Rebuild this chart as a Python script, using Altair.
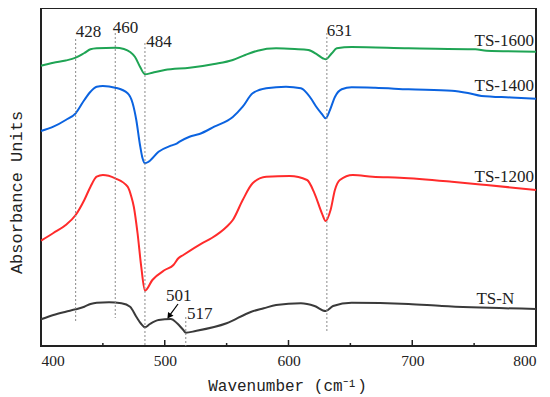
import altair as alt
import pandas as pd

# ---- data (absorbance in arbitrary units) ----
series_names = ["TS-1600", "TS-1400", "TS-1200", "TS-N"]
series_colors = ["#1fa454", "#0b63e0", "#ff2b2b", "#3a3a3a"]

wn_1600 = [400, 410, 420, 428, 435, 440, 445, 460, 467, 472, 476, 480, 484, 490, 500, 520, 540, 555, 565, 575, 590, 605, 616, 623, 628, 630, 635, 639, 651, 697, 751, 760, 800]
ab_1600 = [280.3, 283.3, 285.5, 288.3, 293, 296.7, 297.7, 298.3, 297, 294, 289, 279.3, 271.7, 273.3, 276, 278.3, 282, 286, 291, 295.3, 297.7, 297, 296, 291.7, 287.5, 286.7, 292.7, 297.7, 299, 297.7, 296.7, 295.3, 294.3]

wn_1400 = [400, 410, 420, 428, 435, 440, 445, 450, 460, 470, 474, 477, 480, 482, 484, 487, 495, 505, 510, 512, 520, 528, 540, 555, 563, 571, 582, 598, 610, 615, 619, 622, 627, 630, 633.5, 637.5, 643, 651, 670, 697, 732, 745, 756, 780, 800]
ab_1400 = [215, 219.3, 226, 232.7, 246, 254.3, 259.3, 260, 258.3, 252.7, 243, 226, 201, 188, 182.7, 184.3, 194.3, 200.3, 202.7, 204.3, 209.3, 212, 219.3, 229, 239.3, 252.7, 257.7, 259.3, 257.7, 252.7, 246, 240, 232, 227.7, 236, 249, 256.7, 258.7, 258.2, 256.7, 255.3, 253, 250, 248.5, 247.3]

wn_1200 = [400, 410, 420, 428, 435, 440, 445, 450, 460, 470, 473, 475, 478, 481, 484, 490, 500, 507, 511, 515, 530, 538, 550, 555, 563, 571, 582, 601, 615, 621, 627, 630, 634, 637.5, 641.5, 652, 668, 690, 732, 760, 800]
ab_1200 = [105.3, 113, 121, 131, 146, 159.3, 169.3, 171, 167.7, 159.3, 149.3, 139.3, 113, 79.3, 55.3, 66, 76, 81, 87.7, 91, 102.7, 108, 119.3, 126, 146, 162.7, 169.3, 170, 166, 152.7, 132.7, 125, 136, 156, 166, 171, 169.3, 168.3, 164.3, 161, 156]

wn_n = [400, 410, 420, 428, 435, 440, 445, 455, 465, 472, 477, 481, 484, 488, 495, 505, 510, 515, 517, 525, 550, 570, 580, 590, 610, 621, 630, 636, 651, 697, 724, 800]
ab_n = [26.7, 31, 34.3, 36.7, 39.3, 42, 43.3, 43.7, 42.7, 39.3, 29.3, 22, 18.7, 22, 26, 27, 22.7, 16, 13.3, 15, 22.7, 34.3, 37.7, 41, 42.7, 40, 35, 40, 43.3, 42, 40, 37]

# peak markers: wavenumber, dashed line top / bottom
peak_wn = [428, 460, 484, 631, 517]
peak_top = [307, 313, 303, 313, 29]
peak_bottom = [23.3, 28, 0, 14.3, 0]

# peak labels
plabel_text = ["428", "460", "484", "631", "501", "517"]
plabel_wn = [428, 458, 485, 631, 501, 518]
plabel_ab = [309, 312.7, 298.7, 310.3, 45.3, 26.7]

# series labels
slabel_wn = [800, 800, 800, 784]
slabel_ab = [300, 255.3, 164.3, 42]

major_ticks = [400, 500, 600, 700, 800]
minor_ticks = [450, 550, 650, 750]

# arrow for 501
arrow_wn = [510.7]
arrow_ab = [42]
arrow_wn2 = [503.5]
arrow_ab2 = [29.8]

# ---- build tables ----
rows = []
for name, wns, abs_ in zip(series_names, [wn_1600, wn_1400, wn_1200, wn_n], [ab_1600, ab_1400, ab_1200, ab_n]):
    for w, a in zip(wns, abs_):
        rows.append({"series": name, "wn": w, "ab": a})
lines_df = pd.DataFrame(rows)

X_SCALE = alt.Scale(domain=[400, 800], nice=False, zero=False)
Y_SCALE = alt.Scale(domain=[0, 338], nice=False, zero=False)
SERIF = "Liberation Serif"
MONO = "Liberation Mono"
INK = "#222222"

x_axis = alt.Axis(
    values=major_ticks, format="d", ticks=False, domain=False, grid=False,
    labelPadding=7, labelFont=SERIF, labelFontSize=15.5, labelColor=INK,
    title="Wavenumber (cm⁻¹)", titleFont=MONO, titleFontSize=16, titleFontWeight="normal",
    titleColor=INK, titleX=246, titleY=44, titleBaseline="alphabetic", titleAlign="center",
)
y_axis = alt.Axis(
    labels=False, ticks=False, domain=False, grid=False,
    title="Absorbance Units", titleFont=MONO, titleFontSize=17, titleFontWeight="normal",
    titleColor=INK, titleX=-20, titleY=184, titleAngle=270, titleAlign="center",
    titleBaseline="alphabetic",
)

lines = alt.Chart(lines_df).mark_line(strokeWidth=2, interpolate="monotone").encode(
    x=alt.X("wn:Q", scale=X_SCALE, axis=x_axis),
    y=alt.Y("ab:Q", scale=Y_SCALE, axis=y_axis),
    color=alt.Color("series:N", scale=alt.Scale(domain=series_names, range=series_colors), legend=None),
    detail="series:N",
)

peaks_df = pd.DataFrame({"wn": peak_wn, "top": peak_top, "bottom": peak_bottom})
dashes = alt.Chart(peaks_df).mark_rule(color="#8a8a8a", strokeWidth=1, strokeDash=[2, 2]).encode(
    x=alt.X("wn:Q", scale=X_SCALE),
    y=alt.Y("top:Q", scale=Y_SCALE),
    y2="bottom:Q",
)

plabel_df = pd.DataFrame({"t": plabel_text, "wn": plabel_wn, "ab": plabel_ab})
plabels = alt.Chart(plabel_df).mark_text(
    align="left", baseline="alphabetic", font=SERIF, fontSize=17, color=INK, dx=0
).encode(
    x=alt.X("wn:Q", scale=X_SCALE),
    y=alt.Y("ab:Q", scale=Y_SCALE),
    text="t:N",
)

slabel_df = pd.DataFrame({"t": series_names, "wn": slabel_wn, "ab": slabel_ab})
slabels = alt.Chart(slabel_df).mark_text(
    align="right", baseline="alphabetic", font=SERIF, fontSize=17, color=INK, dx=-2
).encode(
    x=alt.X("wn:Q", scale=X_SCALE),
    y=alt.Y("ab:Q", scale=Y_SCALE),
    text="t:N",
)

major_df = pd.DataFrame({"wn": major_ticks})
minor_df = pd.DataFrame({"wn": minor_ticks})
major_t = alt.Chart(major_df).mark_rule(color=INK, strokeWidth=1.5).encode(
    x=alt.X("wn:Q", scale=X_SCALE), y=alt.value(338), y2=alt.value(332)
)
minor_t = alt.Chart(minor_df).mark_rule(color=INK, strokeWidth=1.5).encode(
    x=alt.X("wn:Q", scale=X_SCALE), y=alt.value(338), y2=alt.value(335)
)

arrow_df = pd.DataFrame({"wn": arrow_wn, "ab": arrow_ab, "wn2": arrow_wn2, "ab2": arrow_ab2})
arrow_line = alt.Chart(arrow_df).mark_rule(color="black", strokeWidth=1.2).encode(
    x=alt.X("wn:Q", scale=X_SCALE), y=alt.Y("ab:Q", scale=Y_SCALE),
    x2="wn2:Q", y2="ab2:Q",
)
arrow_head = alt.Chart(arrow_df).mark_point(
    shape="triangle-up", filled=True, color="black", size=45, angle=216, opacity=1
).encode(
    x=alt.X("wn2:Q", scale=X_SCALE), y=alt.Y("ab2:Q", scale=Y_SCALE),
)

chart = alt.layer(
    lines, dashes, major_t, minor_t, plabels, slabels, arrow_line, arrow_head
).properties(
    width=495, height=338,
    background="white",
    autosize=alt.AutoSizeParams(type="none"),
    padding={"left": 33, "top": 0, "right": 6, "bottom": 51},
).configure_view(
    stroke=INK, strokeWidth=2
)

chart.save("out.html", embed_options={"renderer": "svg", "actions": False})
